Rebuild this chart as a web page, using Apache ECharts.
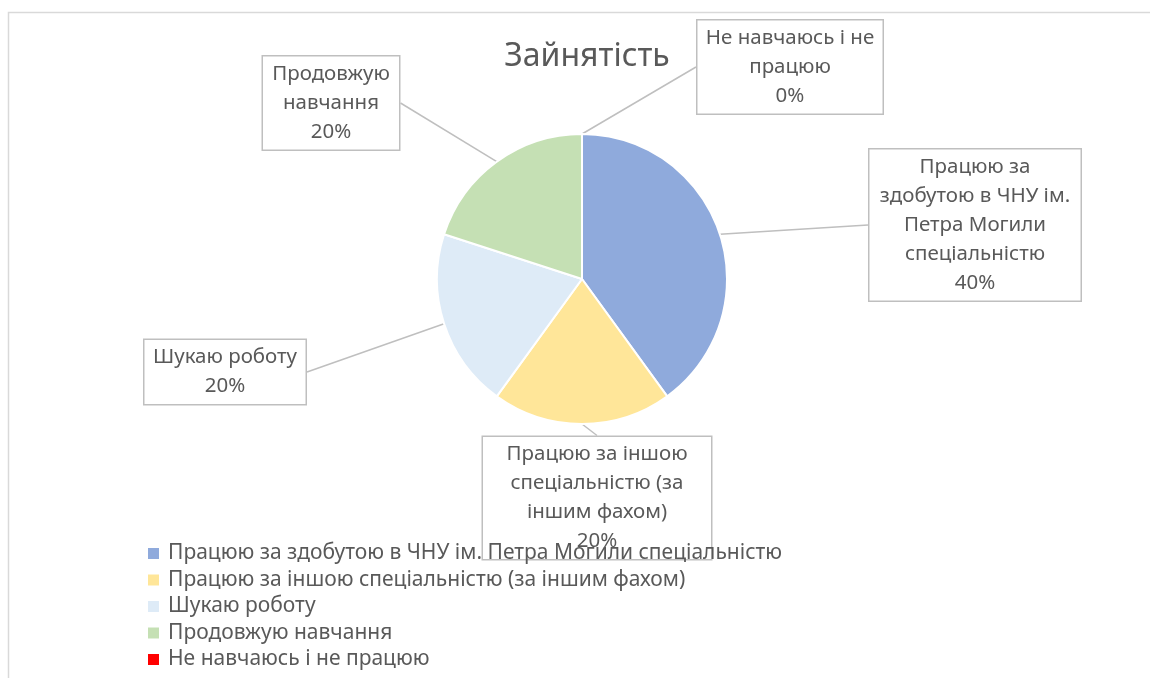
<!DOCTYPE html>
<html>
  <head>
    <title></title>
    <meta charset="UTF-8" />
    <script src="https://cdn.jsdelivr.net/npm/echarts@6/dist/echarts.min.js"></script>
    <style>
      html, body { margin: 0; padding: 0; background: #fff; }
    </style>
  </head>
  <body>
    <div id="main"></div>
    <script>
      const width = 1150;
      const height = 678;
      const main = document.getElementById('main');
      main.style.width = `${width}px`;
      main.style.height = `${height}px`;

      // data
      const categories = [
        'Працюю за здобутою в ЧНУ ім. Петра Могили спеціальністю',
        'Працюю за іншою спеціальністю (за іншим фахом)',
        'Шукаю роботу',
        'Продовжую навчання',
        'Не навчаюсь і не працюю',
      ];
      const values = [40, 20, 20, 20, 0];
      const labelTexts = [
        'Працюю за\nздобутою в ЧНУ ім.\nПетра Могили\nспеціальністю',
        'Працюю за іншою\nспеціальністю (за\nіншим фахом)',
        'Шукаю роботу',
        'Продовжую\nнавчання',
        'Не навчаюсь і не\nпрацюю',
      ];
      const colors = ['#8FAADC', '#FFE699', '#DEEBF7', '#C5E0B4', '#FF0000'];

      // label box centres and widths (layout only)
      const boxCenters = [
        [975, 225],
        [597, 498],
        [225, 372],
        [331, 103],
        [790, 67],
      ];
      const boxWidths = [203, 220, 153, 128, 177];

      const font = 'Noto Sans';
      const textColor = '#595959';

      const myChart = echarts.init(main);
      const option = {
        animation: false,
        color: colors,
        title: {
          text: 'Зайнятість',
          left: 582,
          textAlign: 'center',
          top: 36,
          textStyle: {
            fontFamily: font,
            fontSize: 32,
            fontWeight: 'normal',
            color: textColor,
          },
        },
        graphic: [
          {
            type: 'rect',
            left: 6,
            top: 10,
            silent: true,
            shape: { width: 1200, height: 720 },
            style: { fill: 'none', stroke: '#D9D9D9', lineWidth: 1.5 },
          },
        ],
        legend: {
          orient: 'vertical',
          left: 146,
          top: 543,
          padding: 0,
          icon: 'rect',
          itemWidth: 13,
          itemHeight: 13,
          itemGap: 5.5,
          data: categories,
          textStyle: {
            fontFamily: font,
            fontSize: 21,
            color: textColor,
            padding: [0, 0, 0, 3],
          },
        },
        series: [
          {
            type: 'pie',
            center: [582, 279],
            radius: 145,
            startAngle: 90,
            clockwise: true,
            itemStyle: { borderColor: '#fff', borderWidth: 2 },
            emphasis: { disabled: true },
            data: categories.map((name, i) => ({
              name,
              value: values[i],
              label: { width: boxWidths[i] },
            })),
            label: {
              show: true,
              position: 'outside',
              formatter: (p) =>
                labelTexts[p.dataIndex] + '\n' + Math.round(p.percent) + '%',
              fontFamily: font,
              fontSize: 20.5,
              lineHeight: 29,
              color: textColor,
              align: 'center',
              backgroundColor: '#fff',
              borderColor: '#BFBFBF',
              borderWidth: 1.5,
              padding: [3, 4],
            },
            labelLine: {
              show: true,
              length: 10,
              length2: 0,
              lineStyle: { color: '#BFBFBF', width: 1.5 },
            },
            labelLayout: (params) => {
              const c = boxCenters[params.dataIndex];
              return {
                x: c[0],
                y: c[1],
                align: 'center',
                verticalAlign: 'middle',
              };
            },
          },
        ],
      };
      myChart.setOption(option);
    </script>
  </body>
</html>
